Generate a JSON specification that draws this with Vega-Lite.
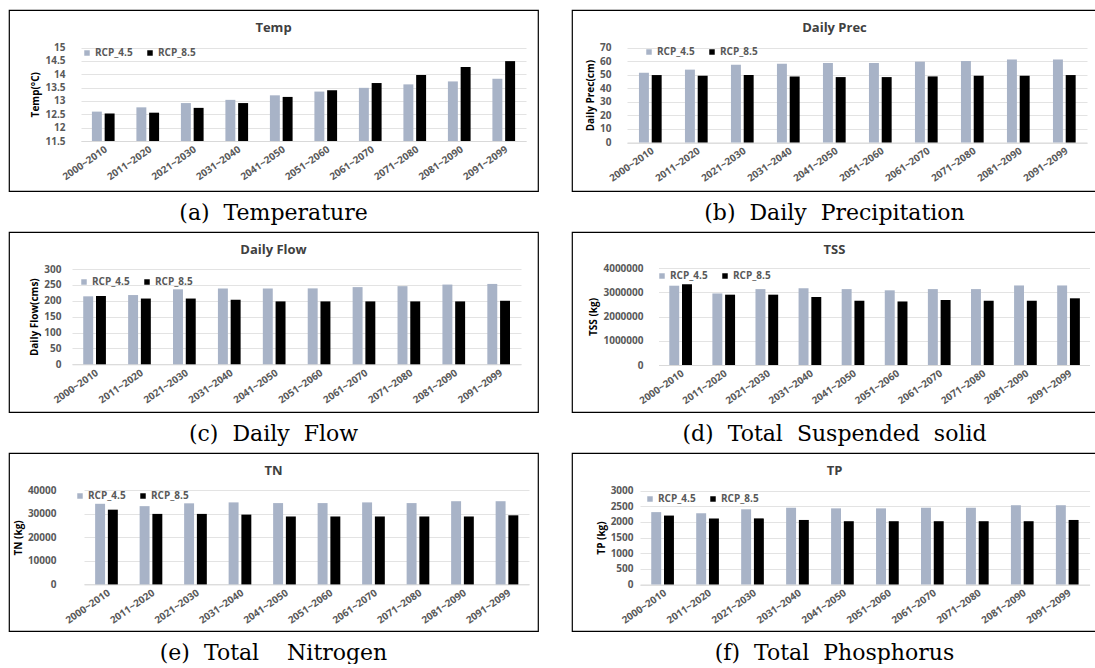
{
"$schema": "https://vega.github.io/schema/vega-lite/v6.json",
"background": "white",
"padding": {"left": 8, "top": 9, "right": 0, "bottom": 0},
"spacing": 7,
"resolve": {"scale": {"color": "independent", "y": "independent", "x": "independent"}, "legend": {"color": "independent"}},
"config": {
  "view": {"stroke": "#000000", "strokeWidth": 1.2},
  "axis": {"labelFont": "Open Sans", "labelFontWeight": "bold", "labelColor": "#595959", "titleFont": "Open Sans", "titleFontWeight": "bold", "titleColor": "#000000", "titleFontSize": 10, "gridColor": "#e3e3e3", "domainColor": "#d9d9d9", "ticks": false},
  "axisX": {"labelAngle": -35, "labelFontSize": 10, "grid": false, "labelPadding": 3},
  "axisY": {"labelFontSize": 10, "domain": false, "grid": true, "labelPadding": 4, "titlePadding": 4},
  "legend": {"orient": "none", "direction": "horizontal", "symbolType": "square", "symbolSize": 30, "symbolStrokeWidth": 0, "labelFont": "Open Sans", "labelFontWeight": "bold", "labelFontSize": 10, "labelColor": "#595959", "columnPadding": 12, "labelOffset": 3, "padding": 0},
  "title": {"anchor": "middle"}
},
"vconcat": [
{"hconcat": [
 {"vconcat": [{
  "width": 529, "height": 181,
  "title": {"text": "Temp", "offset": -35, "baseline": "alphabetic", "frame": "group", "font": "Open Sans", "fontWeight": "bold", "fontSize": 13, "color": "#404040"},
  "data": {"values": [
   {"p":"2000~2010","s":"RCP_4.5","v":12.6},{"p":"2000~2010","s":"RCP_8.5","v":12.53},
   {"p":"2011~2020","s":"RCP_4.5","v":12.76},{"p":"2011~2020","s":"RCP_8.5","v":12.56},
   {"p":"2021~2030","s":"RCP_4.5","v":12.92},{"p":"2021~2030","s":"RCP_8.5","v":12.74},
   {"p":"2031~2040","s":"RCP_4.5","v":13.04},{"p":"2031~2040","s":"RCP_8.5","v":12.92},
   {"p":"2041~2050","s":"RCP_4.5","v":13.21},{"p":"2041~2050","s":"RCP_8.5","v":13.15},
   {"p":"2051~2060","s":"RCP_4.5","v":13.35},{"p":"2051~2060","s":"RCP_8.5","v":13.4},
   {"p":"2061~2070","s":"RCP_4.5","v":13.49},{"p":"2061~2070","s":"RCP_8.5","v":13.67},
   {"p":"2071~2080","s":"RCP_4.5","v":13.62},{"p":"2071~2080","s":"RCP_8.5","v":13.97},
   {"p":"2081~2090","s":"RCP_4.5","v":13.73},{"p":"2081~2090","s":"RCP_8.5","v":14.27},
   {"p":"2091~2099","s":"RCP_4.5","v":13.83},{"p":"2091~2099","s":"RCP_8.5","v":14.49}
  ]},
  "mark": {"type": "bar"},
  "encoding": {
   "x": {"field": "p", "type": "nominal", "title": null, "scale": {"range": [72, 517], "paddingInner": 0.49, "paddingOuter": 0.245}, "axis": {"offset": -50}},
   "xOffset": {"field": "s", "scale": {"paddingInner": 0.22}},
   "y": {"field": "v", "type": "quantitative", "title": "Temp(°C)", "scale": {"domain": [11.5, 15], "range": [131, 37.5], "nice": false, "zero": false}, "axis": {"values": [11.5,12,12.5,13,13.5,14,14.5,15], "labelExpr": "'' + datum.value", "offset": -60}},
   "y2": {"datum": 11.5},
   "color": {"field": "s", "type": "nominal", "scale": {"domain": ["RCP_4.5","RCP_8.5"], "range": ["#a8b3c7","#000000"]}, "legend": {"title": null, "legendX": 73, "legendY": 38}}
  }
 }],
 "title": {"text": "(a)\u00a0\u00a0Temperature", "orient": "bottom", "offset": 11, "baseline": "top", "font": "DejaVu Serif", "fontSize": 22, "fontWeight": "normal", "color": "#000000"},
 "resolve": {"scale": {"color": "independent"}, "legend": {"color": "independent"}}
 },
 {"vconcat": [{
  "width": 525, "height": 181,
  "title": {"text": "Daily Prec", "offset": -35, "baseline": "alphabetic", "frame": "group", "font": "Open Sans", "fontWeight": "bold", "fontSize": 13, "color": "#404040"},
  "data": {"values": [
   {"p":"2000~2010","s":"RCP_4.5","v":51.5},{"p":"2000~2010","s":"RCP_8.5","v":49.8},
   {"p":"2011~2020","s":"RCP_4.5","v":53.8},{"p":"2011~2020","s":"RCP_8.5","v":49.3},
   {"p":"2021~2030","s":"RCP_4.5","v":57.5},{"p":"2021~2030","s":"RCP_8.5","v":49.8},
   {"p":"2031~2040","s":"RCP_4.5","v":58.2},{"p":"2031~2040","s":"RCP_8.5","v":48.8},
   {"p":"2041~2050","s":"RCP_4.5","v":58.7},{"p":"2041~2050","s":"RCP_8.5","v":48.3},
   {"p":"2051~2060","s":"RCP_4.5","v":58.7},{"p":"2051~2060","s":"RCP_8.5","v":48.3},
   {"p":"2061~2070","s":"RCP_4.5","v":59.7},{"p":"2061~2070","s":"RCP_8.5","v":48.8},
   {"p":"2071~2080","s":"RCP_4.5","v":60.2},{"p":"2071~2080","s":"RCP_8.5","v":49.3},
   {"p":"2081~2090","s":"RCP_4.5","v":61.3},{"p":"2081~2090","s":"RCP_8.5","v":49.3},
   {"p":"2091~2099","s":"RCP_4.5","v":61.3},{"p":"2091~2099","s":"RCP_8.5","v":49.8}
  ]},
  "mark": {"type": "bar"},
  "encoding": {
   "x": {"field": "p", "type": "nominal", "title": null, "scale": {"range": [55, 515], "paddingInner": 0.52, "paddingOuter": 0.26}, "axis": {"offset": -48.5}},
   "xOffset": {"field": "s", "scale": {"paddingInner": 0.18}},
   "y": {"field": "v", "type": "quantitative", "title": "Daily Prec(cm)", "scale": {"domain": [0, 70], "range": [132.5, 37.7], "nice": false}, "axis": {"values": [0,10,20,30,40,50,60,70], "labelExpr": "'' + datum.value", "offset": -43}},
   "y2": {"datum": 0},
   "color": {"field": "s", "type": "nominal", "scale": {"domain": ["RCP_4.5","RCP_8.5"], "range": ["#a8b3c7","#000000"]}, "legend": {"title": null, "legendX": 72, "legendY": 37}}
  }
 }],
 "title": {"text": "(b)\u00a0\u00a0Daily\u00a0\u00a0Precipitation", "orient": "bottom", "offset": 11, "baseline": "top", "font": "DejaVu Serif", "fontSize": 22, "fontWeight": "normal", "color": "#000000"},
 "resolve": {"scale": {"color": "independent"}, "legend": {"color": "independent"}}
 }
], "spacing": 32, "resolve": {"scale": {"color": "independent"}, "legend": {"color": "independent"}}},
{"hconcat": [
 {"vconcat": [{
  "width": 529, "height": 180,
  "title": {"text": "Daily Flow", "offset": -35, "baseline": "alphabetic", "frame": "group", "font": "Open Sans", "fontWeight": "bold", "fontSize": 13, "color": "#404040"},
  "data": {"values": [
   {"p":"2000~2010","s":"RCP_4.5","v":214},{"p":"2000~2010","s":"RCP_8.5","v":215},
   {"p":"2011~2020","s":"RCP_4.5","v":218},{"p":"2011~2020","s":"RCP_8.5","v":207},
   {"p":"2021~2030","s":"RCP_4.5","v":236},{"p":"2021~2030","s":"RCP_8.5","v":207},
   {"p":"2031~2040","s":"RCP_4.5","v":239},{"p":"2031~2040","s":"RCP_8.5","v":203},
   {"p":"2041~2050","s":"RCP_4.5","v":239},{"p":"2041~2050","s":"RCP_8.5","v":198},
   {"p":"2051~2060","s":"RCP_4.5","v":239},{"p":"2051~2060","s":"RCP_8.5","v":198},
   {"p":"2061~2070","s":"RCP_4.5","v":243},{"p":"2061~2070","s":"RCP_8.5","v":198},
   {"p":"2071~2080","s":"RCP_4.5","v":246},{"p":"2071~2080","s":"RCP_8.5","v":198},
   {"p":"2081~2090","s":"RCP_4.5","v":251},{"p":"2081~2090","s":"RCP_8.5","v":198},
   {"p":"2091~2099","s":"RCP_4.5","v":253},{"p":"2091~2099","s":"RCP_8.5","v":200}
  ]},
  "mark": {"type": "bar"},
  "encoding": {
   "x": {"field": "p", "type": "nominal", "title": null, "scale": {"range": [63, 512], "paddingInner": 0.5, "paddingOuter": 0.25}, "axis": {"offset": -47.7}},
   "xOffset": {"field": "s", "scale": {"paddingInner": 0.22}},
   "y": {"field": "v", "type": "quantitative", "title": "Daily Flow(cms)", "scale": {"domain": [0, 300], "range": [132.3, 37], "nice": false}, "axis": {"values": [0,50,100,150,200,250,300], "labelExpr": "'' + datum.value", "offset": -56}},
   "y2": {"datum": 0},
   "color": {"field": "s", "type": "nominal", "scale": {"domain": ["RCP_4.5","RCP_8.5"], "range": ["#a8b3c7","#000000"]}, "legend": {"title": null, "legendX": 70, "legendY": 45}}
  }
 }],
 "title": {"text": "(c)\u00a0\u00a0Daily\u00a0\u00a0Flow", "orient": "bottom", "offset": 11, "baseline": "top", "font": "DejaVu Serif", "fontSize": 22, "fontWeight": "normal", "color": "#000000"},
 "resolve": {"scale": {"color": "independent"}, "legend": {"color": "independent"}}
 },
 {"vconcat": [{
  "width": 525, "height": 180,
  "title": {"text": "TSS", "offset": -35, "baseline": "alphabetic", "frame": "group", "font": "Open Sans", "fontWeight": "bold", "fontSize": 13, "color": "#404040"},
  "data": {"values": [
   {"p":"2000~2010","s":"RCP_4.5","v":3270000},{"p":"2000~2010","s":"RCP_8.5","v":3330000},
   {"p":"2011~2020","s":"RCP_4.5","v":2950000},{"p":"2011~2020","s":"RCP_8.5","v":2900000},
   {"p":"2021~2030","s":"RCP_4.5","v":3130000},{"p":"2021~2030","s":"RCP_8.5","v":2900000},
   {"p":"2031~2040","s":"RCP_4.5","v":3160000},{"p":"2031~2040","s":"RCP_8.5","v":2800000},
   {"p":"2041~2050","s":"RCP_4.5","v":3130000},{"p":"2041~2050","s":"RCP_8.5","v":2650000},
   {"p":"2051~2060","s":"RCP_4.5","v":3080000},{"p":"2051~2060","s":"RCP_8.5","v":2620000},
   {"p":"2061~2070","s":"RCP_4.5","v":3130000},{"p":"2061~2070","s":"RCP_8.5","v":2680000},
   {"p":"2071~2080","s":"RCP_4.5","v":3130000},{"p":"2071~2080","s":"RCP_8.5","v":2650000},
   {"p":"2081~2090","s":"RCP_4.5","v":3280000},{"p":"2081~2090","s":"RCP_8.5","v":2650000},
   {"p":"2091~2099","s":"RCP_4.5","v":3280000},{"p":"2091~2099","s":"RCP_8.5","v":2750000}
  ]},
  "mark": {"type": "bar"},
  "encoding": {
   "x": {"field": "p", "type": "nominal", "title": null, "scale": {"range": [86.5, 517.5], "paddingInner": 0.5, "paddingOuter": 0.25}, "axis": {"offset": -47}},
   "xOffset": {"field": "s", "scale": {"paddingInner": 0.22}},
   "y": {"field": "v", "type": "quantitative", "title": "TSS (kg)", "scale": {"domain": [0, 4000000], "range": [133, 36], "nice": false}, "axis": {"values": [0,1000000,2000000,3000000,4000000], "labelExpr": "'' + datum.value", "offset": -75}},
   "y2": {"datum": 0},
   "color": {"field": "s", "type": "nominal", "scale": {"domain": ["RCP_4.5","RCP_8.5"], "range": ["#a8b3c7","#000000"]}, "legend": {"title": null, "legendX": 85, "legendY": 39}}
  }
 }],
 "title": {"text": "(d)\u00a0\u00a0Total\u00a0\u00a0Suspended\u00a0\u00a0solid", "orient": "bottom", "offset": 11, "baseline": "top", "font": "DejaVu Serif", "fontSize": 22, "fontWeight": "normal", "color": "#000000"},
 "resolve": {"scale": {"color": "independent"}, "legend": {"color": "independent"}}
 }
], "spacing": 32, "resolve": {"scale": {"color": "independent"}, "legend": {"color": "independent"}}},
{"hconcat": [
 {"vconcat": [{
  "width": 529, "height": 178,
  "title": {"text": "TN", "offset": -35, "baseline": "alphabetic", "frame": "group", "font": "Open Sans", "fontWeight": "bold", "fontSize": 13, "color": "#404040"},
  "data": {"values": [
   {"p":"2000~2010","s":"RCP_4.5","v":34300},{"p":"2000~2010","s":"RCP_8.5","v":31800},
   {"p":"2011~2020","s":"RCP_4.5","v":33300},{"p":"2011~2020","s":"RCP_8.5","v":30000},
   {"p":"2021~2030","s":"RCP_4.5","v":34500},{"p":"2021~2030","s":"RCP_8.5","v":30000},
   {"p":"2031~2040","s":"RCP_4.5","v":34900},{"p":"2031~2040","s":"RCP_8.5","v":29700},
   {"p":"2041~2050","s":"RCP_4.5","v":34600},{"p":"2041~2050","s":"RCP_8.5","v":28900},
   {"p":"2051~2060","s":"RCP_4.5","v":34600},{"p":"2051~2060","s":"RCP_8.5","v":28900},
   {"p":"2061~2070","s":"RCP_4.5","v":34900},{"p":"2061~2070","s":"RCP_8.5","v":28900},
   {"p":"2071~2080","s":"RCP_4.5","v":34600},{"p":"2071~2080","s":"RCP_8.5","v":28900},
   {"p":"2081~2090","s":"RCP_4.5","v":35400},{"p":"2081~2090","s":"RCP_8.5","v":28900},
   {"p":"2091~2099","s":"RCP_4.5","v":35400},{"p":"2091~2099","s":"RCP_8.5","v":29400}
  ]},
  "mark": {"type": "bar"},
  "encoding": {
   "x": {"field": "p", "type": "nominal", "title": null, "scale": {"range": [75, 520], "paddingInner": 0.5, "paddingOuter": 0.25}, "axis": {"offset": -46.6}},
   "xOffset": {"field": "s", "scale": {"paddingInner": 0.22}},
   "y": {"field": "v", "type": "quantitative", "title": "TN (kg)", "scale": {"domain": [0, 40000], "range": [131.4, 37.4], "nice": false}, "axis": {"values": [0,10000,20000,30000,40000], "labelExpr": "'' + datum.value", "offset": -51}},
   "y2": {"datum": 0},
   "color": {"field": "s", "type": "nominal", "scale": {"domain": ["RCP_4.5","RCP_8.5"], "range": ["#a8b3c7","#000000"]}, "legend": {"title": null, "legendX": 66, "legendY": 38}}
  }
 }],
 "title": {"text": "(e)\u00a0\u00a0Total\u00a0\u00a0\u00a0\u00a0Nitrogen", "orient": "bottom", "offset": 11, "baseline": "top", "font": "DejaVu Serif", "fontSize": 22, "fontWeight": "normal", "color": "#000000"},
 "resolve": {"scale": {"color": "independent"}, "legend": {"color": "independent"}}
 },
 {"vconcat": [{
  "width": 525, "height": 178,
  "title": {"text": "TP", "offset": -35, "baseline": "alphabetic", "frame": "group", "font": "Open Sans", "fontWeight": "bold", "fontSize": 13, "color": "#404040"},
  "data": {"values": [
   {"p":"2000~2010","s":"RCP_4.5","v":2310},{"p":"2000~2010","s":"RCP_8.5","v":2200},
   {"p":"2011~2020","s":"RCP_4.5","v":2270},{"p":"2011~2020","s":"RCP_8.5","v":2110},
   {"p":"2021~2030","s":"RCP_4.5","v":2400},{"p":"2021~2030","s":"RCP_8.5","v":2110},
   {"p":"2031~2040","s":"RCP_4.5","v":2450},{"p":"2031~2040","s":"RCP_8.5","v":2060},
   {"p":"2041~2050","s":"RCP_4.5","v":2430},{"p":"2041~2050","s":"RCP_8.5","v":2020},
   {"p":"2051~2060","s":"RCP_4.5","v":2430},{"p":"2051~2060","s":"RCP_8.5","v":2020},
   {"p":"2061~2070","s":"RCP_4.5","v":2450},{"p":"2061~2070","s":"RCP_8.5","v":2020},
   {"p":"2071~2080","s":"RCP_4.5","v":2450},{"p":"2071~2080","s":"RCP_8.5","v":2020},
   {"p":"2081~2090","s":"RCP_4.5","v":2530},{"p":"2081~2090","s":"RCP_8.5","v":2020},
   {"p":"2091~2099","s":"RCP_4.5","v":2530},{"p":"2091~2099","s":"RCP_8.5","v":2060}
  ]},
  "mark": {"type": "bar"},
  "encoding": {
   "x": {"field": "p", "type": "nominal", "title": null, "scale": {"range": [68, 517.6], "paddingInner": 0.5, "paddingOuter": 0.25}, "axis": {"offset": -46.5}},
   "xOffset": {"field": "s", "scale": {"paddingInner": 0.22}},
   "y": {"field": "v", "type": "quantitative", "title": "TP (kg)", "scale": {"domain": [0, 3000], "range": [131.5, 37.5], "nice": false}, "axis": {"values": [0,500,1000,1500,2000,2500,3000], "labelExpr": "'' + datum.value", "offset": -65}},
   "y2": {"datum": 0},
   "color": {"field": "s", "type": "nominal", "scale": {"domain": ["RCP_4.5","RCP_8.5"], "range": ["#a8b3c7","#000000"]}, "legend": {"title": null, "legendX": 73, "legendY": 41}}
  }
 }],
 "title": {"text": "(f)\u00a0\u00a0Total\u00a0\u00a0Phosphorus", "orient": "bottom", "offset": 11, "baseline": "top", "font": "DejaVu Serif", "fontSize": 22, "fontWeight": "normal", "color": "#000000"},
 "resolve": {"scale": {"color": "independent"}, "legend": {"color": "independent"}}
 }
], "spacing": 32, "resolve": {"scale": {"color": "independent"}, "legend": {"color": "independent"}}}
]
}
